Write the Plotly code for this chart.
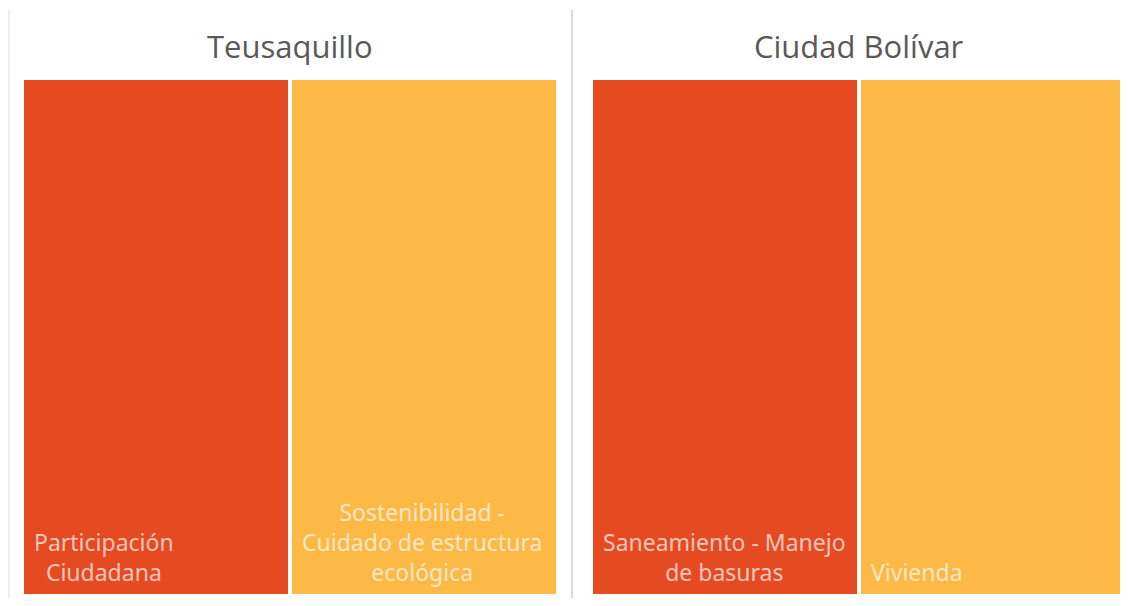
import plotly.graph_objects as go

# Page body has an 8px margin; the figure is sized/positioned in figure coords.
W, H = 1120, 590
OFF = 8  # page offset

panels = ["Teusaquillo", "Ciudad Bolívar"]
teusaquillo_cats = ["Participación<br>Ciudadana",
                    "Sostenibilidad -<br>Cuidado de estructura<br>ecológica"]
teusaquillo_vals = [1, 1]
bolivar_cats = ["Saneamiento - Manejo<br>de basuras", "Vivienda"]
bolivar_vals = [1, 1]

colors = ["#E64A21", "#FDB845"]
label_color = "rgba(255,255,255,0.70)"


def px_x(p):
    return (p - OFF) / W


def px_y(p):
    return 1 - (p - OFF) / H


fig = go.Figure()

data = [(teusaquillo_cats, teusaquillo_vals), (bolivar_cats, bolivar_vals)]
x_domains = [[px_x(24), px_x(556)], [px_x(593), px_x(1125)]]
y_domain = [px_y(594), px_y(80)]
bw = 0.985

for i, (cats, vals) in enumerate(data):
    xa = "x" if i == 0 else "x2"
    ya = "y" if i == 0 else "y2"
    xs = list(range(len(cats)))
    fig.add_trace(go.Bar(
        x=xs, y=vals, width=bw, marker=dict(color=colors, line=dict(width=0)),
        xaxis=xa, yaxis=ya, hoverinfo="skip", showlegend=False,
    ))
    for j, c in enumerate(cats):
        fig.add_annotation(
            x=xs[j] - bw / 2, y=0, xref=xa, yref=ya,
            xanchor="left", yanchor="bottom", xshift=8, yshift=4,
            text=c, showarrow=False, align="center",
            font=dict(family="Noto Sans", size=23, color=label_color),
        )
    fig.add_annotation(
        x=0.5, y=px_y(46), xref=f"{xa} domain", yref="paper",
        text=panels[i], showarrow=False, xanchor="center", yanchor="middle",
        font=dict(family="Open Sans", size=31, color="#595959"),
    )

axis_common = dict(showgrid=False, zeroline=False, showticklabels=False,
                   showline=False, ticks="", fixedrange=True)
fig.update_layout(
    width=W, height=H,
    margin=dict(l=0, r=0, t=0, b=0),
    paper_bgcolor="white", plot_bgcolor="white",
    xaxis=dict(domain=x_domains[0], range=[-bw / 2, 1 + bw / 2], anchor="y", **axis_common),
    xaxis2=dict(domain=x_domains[1], range=[-bw / 2, 1 + bw / 2], anchor="y2", **axis_common),
    yaxis=dict(domain=y_domain, range=[0, 1], anchor="x", **axis_common),
    yaxis2=dict(domain=y_domain, range=[0, 1], anchor="x2", **axis_common),
    shapes=[
        dict(type="line", xref="paper", yref="paper", x0=px_x(572), x1=px_x(572),
             y0=0, y1=px_y(10), line=dict(color="#D9D9D9", width=2)),
        dict(type="line", xref="paper", yref="paper", x0=px_x(9), x1=px_x(9),
             y0=0, y1=px_y(10), line=dict(color="#EEEEEE", width=2)),
    ],
)

fig.write_html("out.html")
